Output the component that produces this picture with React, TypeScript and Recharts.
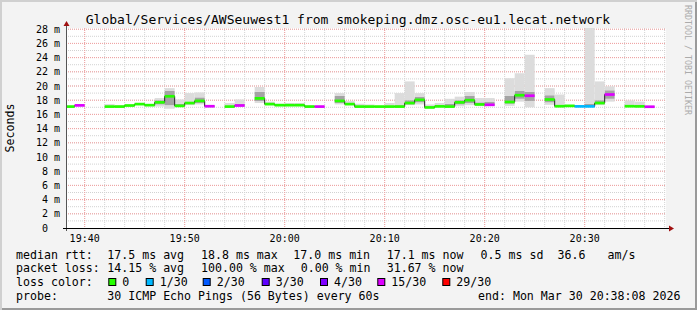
import React from 'react'
import { ComposedChart, Bar, Line, XAxis, YAxis, CartesianGrid, Cell } from 'recharts'

// minutes after 19:00, window 19:38:08 .. 20:38:08
const START = 38 + 8 / 60
const END = START + 60

// one entry per minute, first bin 19:38-19:39
const median: (number | null)[] = [
    17.1, 17.27, null, null, 17.1, 17.1, 17.25, 17.45, 17.3, 17.7,
    18.55, 17.2, 17.6, 17.9, 17.15, null, 17.1, 17.25, null, 18.25,
    17.45, 17.3, 17.3, 17.3, 17.1, 17.1, null, 17.9, 17.45, 17.1,
    17.1, 17.1, 17.1, 17.1, 17.6, 18.05, 16.98, 17.13, 17.1, 17.7,
    18.0, 17.4, 17.35, null, 17.75, 18.7, 18.63, null, 18.1, 17.15,
    17.2, 17.13, 17.13, 17.6, 18.8, null, 17.15, 17.13, 17.08, null,
]
// pings lost out of 30
const lost: number[] = [
    0, 15, 30, 30, 0, 0, 0, 0, 0, 0,
    0, 0, 0, 0, 15, 30, 0, 15, 30, 0,
    0, 0, 0, 0, 0, 15, 30, 0, 0, 0,
    0, 0, 0, 0, 0, 0, 0, 0, 0, 0,
    0, 0, 15, 30, 0, 0, 15, 30, 0, 0,
    0, 1, 1, 0, 15, 30, 0, 0, 15, 30,
]
const smokeMin: (number | null)[] = [
    17.0, 17.2, null, null, 17.0, 17.0, 17.15, 17.35, 17.2, 17.1,
    16.8, 17.1, 17.3, 17.4, 17.0, null, 17.0, 17.15, null, 17.6,
    17.3, 17.2, 17.2, 17.2, 17.0, 17.0, null, 17.4, 17.3, 17.0,
    17.0, 17.0, 17.0, 17.0, 17.3, 17.4, 16.85, 17.0, 17.0, 17.15,
    17.3, 17.2, 17.2, null, 17.2, 17.8, 17.0, null, 17.35, 17.05,
    17.1, 17.05, 17.05, 17.3, 17.8, null, 17.05, 17.05, 17.0, null,
]
const smokeMax: (number | null)[] = [
    17.2, 17.4, null, null, 17.45, 17.3, 17.4, 17.6, 17.4, 18.3,
    19.7, 18.1, 19.0, 19.1, 17.3, null, 17.6, 18.1, null, 19.85,
    17.8, 17.5, 17.6, 17.6, 17.3, 17.2, null, 19.0, 17.9, 17.5,
    17.4, 17.2, 17.6, 19.0, 20.65, 19.0, 17.4, 17.6, 18.2, 18.5,
    19.15, 18.3, 18.3, null, 21.1, 21.8, 24.4, null, 19.7, 18.8,
    17.35, 17.3, 28.5, 20.65, 19.95, null, 17.97, 17.8, 17.2, null,
]
const coreLo: (number | null)[] = [
    17.05, 17.22, null, null, 17.05, 17.05, 17.2, 17.4, 17.25, 17.4,
    17.3, 17.15, 17.45, 17.6, 17.05, null, 17.05, 17.2, null, 17.9,
    17.4, 17.25, 17.25, 17.25, 17.05, 17.05, null, 17.6, 17.4, 17.05,
    17.05, 17.05, 17.05, 17.05, 17.4, 17.7, 16.9, 17.05, 17.05, 17.4,
    17.6, 17.3, 17.25, null, 17.5, 18.2, 17.9, null, 17.7, 17.1,
    17.15, 17.08, 17.1, 17.45, 18.2, null, 17.1, 17.1, 17.02, null,
]
const coreHi: (number | null)[] = [
    17.15, 17.32, null, null, 17.2, 17.15, 17.3, 17.5, 17.35, 18.0,
    19.3, 17.5, 17.8, 18.4, 17.2, null, 17.2, 17.5, null, 19.2,
    17.6, 17.35, 17.4, 17.4, 17.15, 17.15, null, 18.6, 17.6, 17.2,
    17.15, 17.15, 17.2, 17.3, 18.0, 18.5, 17.1, 17.25, 17.5, 18.0,
    18.6, 17.7, 17.8, null, 18.6, 19.3, 19.2, null, 18.7, 17.3,
    17.25, 17.2, 17.5, 18.0, 19.4, null, 17.3, 17.25, 17.15, null,
]

const LOSS_LEVELS = [0, 1, 2, 3, 4, 15, 29]
const LOSS_COLORS = ['#26ff00', '#00b8ff', '#0059ff', '#5e00ff', '#7e00ff', '#dd00ff', '#ff0000']
const LOSS_LABELS = ['0', '1/30', '2/30', '3/30', '4/30', '15/30', '29/30']

const X_TICKS = [40, 50, 60, 70, 80, 90]
const Y_TICKS = [0, 2, 4, 6, 8, 10, 12, 14, 16, 18, 20, 22, 24, 26, 28]
const X_MINOR = [40, 42, 44, 46, 48, 50, 52, 54, 56, 58, 60, 62, 64, 66, 68, 70, 72, 74, 76, 78, 80, 82, 84, 86, 88, 90, 92, 94, 96, 98]
const Y_MINOR = [1, 2, 3, 4, 5, 6, 7, 8, 9, 10, 11, 12, 13, 14, 15, 16, 17, 18, 19, 20, 21, 22, 23, 24, 25, 26, 27, 28]
const Y_MAJOR = [2, 4, 6, 8, 10, 12, 14, 16, 18, 20, 22, 24, 26, 28]

const BAND = 0.19
const MONO = '"DejaVu Sans Mono", monospace'

const lossColor = (n: number) => {
    let c = LOSS_COLORS[0]
    LOSS_LEVELS.forEach((lvl, i) => { if (n >= lvl) c = LOSS_COLORS[i] })
    return c
}

const data = median.map((m, i) => {
    const ok = m != null
    return {
        t: Math.floor(START) + i + 0.5,
        base: ok ? (smokeMin[i] as number) : 0,
        lightLo: ok ? (coreLo[i] as number) - (smokeMin[i] as number) : 0,
        dark: ok ? (coreHi[i] as number) - (coreLo[i] as number) : 0,
        lightHi: ok ? (smokeMax[i] as number) - (coreHi[i] as number) : 0,
        bandBase: ok ? (m as number) - BAND : 0,
        band: ok ? 2 * BAND : 0,
        median: m,
        color: lossColor(lost[i]),
    }
})

const XTick = (p: any) => {
    const v = p.payload.value
    const h = 19 + Math.floor(v / 60)
    const mm = String(v % 60).padStart(2, '0')
    return (
        <text x={p.x} y={p.y - 20} textAnchor="middle" dominantBaseline="central" fontSize={10} fontFamily={MONO} fill="#000">
            {`${h}:${mm}`}
        </text>
    )
}

const YTick = (p: any) => {
    const v = p.payload.value
    return (
        <text x={v === 0 ? p.x - 18 : p.x - 6} y={p.y} textAnchor="end" dominantBaseline="central" fontSize={10} fontFamily={MONO} fill="#000">
            {v === 0 ? '0' : `${v} m`}
        </text>
    )
}

const row1 = [
    ['median rtt:', 16], ['17.5 ms avg', 107.3], ['18.8 ms max', 201], ['17.0 ms min', 293.3],
    ['17.1 ms now', 386.7], ['0.5 ms sd', 480.6], ['36.6', 557.5], ['am/s', 607.5],
] as const
const row2 = [
    ['packet loss:', 16], ['14.15 % avg', 107.3], ['100.00 % max', 201], ['0.00 % min', 300.7], ['31.67 % now', 386.7],
] as const
const boxX = [108.3, 145.7, 202.7, 261.7, 320, 377.3, 442.3]

export default function App() {
    return (
        <div style={{ position: 'relative', width: 697, height: 310, background: '#f3f3f3', boxShadow: 'inset 2px 2px 0 #d0d0d0, inset -2px -2px 0 #9a9a9a' }}>
            <style>{'body{margin:0}'}</style>
            <ComposedChart width={697} height={310} data={data} margin={{ top: 28, right: 31, bottom: 52, left: 6 }} barCategoryGap={0} barGap={0} style={{ position: 'absolute', left: 0, top: 0 }}>
                <CartesianGrid xAxisId="main" fill="#ffffff" stroke="#d2d2d2" strokeDasharray="1 1" horizontalValues={Y_MINOR} verticalValues={X_MINOR} />
                <CartesianGrid xAxisId="main" stroke="#f2a0a0" strokeDasharray="1 1" horizontalValues={Y_MAJOR} verticalValues={X_TICKS} />
                <XAxis xAxisId="main" dataKey="t" type="number" domain={[START, END]} allowDataOverflow ticks={X_TICKS} interval={0} tickSize={0} tickMargin={0} axisLine={false} tickLine={false} tick={XTick} height={30} />
                <XAxis xAxisId="band" dataKey="t" type="number" domain={[START, END]} allowDataOverflow hide />
                <YAxis type="number" domain={[0, 28.17]} allowDataOverflow ticks={Y_TICKS} interval={0} tickSize={0} tickMargin={0} axisLine={false} tickLine={false} tick={YTick} width={60} />

                <Bar xAxisId="main" dataKey="base" stackId="smoke" fill="transparent" isAnimationActive={false} zIndex={300} />
                <Bar xAxisId="main" dataKey="lightLo" stackId="smoke" fill="#dcdcdc" isAnimationActive={false} zIndex={300} />
                <Bar xAxisId="main" dataKey="dark" stackId="smoke" fill="#a4a4a4" isAnimationActive={false} zIndex={300} />
                <Bar xAxisId="main" dataKey="lightHi" stackId="smoke" fill="#dcdcdc" isAnimationActive={false} zIndex={300} />

                <Line xAxisId="main" dataKey="median" type="step" stroke="#222" strokeWidth={1} dot={false} activeDot={false} connectNulls={false} isAnimationActive={false} zIndex={400} />

                <Bar xAxisId="band" dataKey="bandBase" stackId="band" fill="transparent" isAnimationActive={false} zIndex={450} />
                <Bar xAxisId="band" dataKey="band" stackId="band" isAnimationActive={false} zIndex={450}>
                    {data.map((d, i) => (
                        <Cell key={i} fill={d.color} />
                    ))}
                </Bar>
            </ComposedChart>

            <svg width={697} height={310} style={{ position: 'absolute', left: 0, top: 0, pointerEvents: 'none' }}>
                <text x={348} y={19} textAnchor="middle" dominantBaseline="central" fontSize={13} fontFamily={MONO} fill="#000">
                    Global/Services/AWSeuwest1 from smokeping.dmz.osc-eu1.lecat.network
                </text>
                <text x={10} y={128} transform="rotate(-90 10 128)" textAnchor="middle" dominantBaseline="central" fontSize={11.6} fontFamily={MONO} fill="#000">
                    Seconds
                </text>
                <text x={687.5} y={60} transform="rotate(90 687.5 60)" textAnchor="middle" dominantBaseline="central" fontSize={8.3} fontFamily={MONO} fill="#ababab">
                    RRDTOOL / TOBI OETIKER
                </text>

                <line x1={66.5} y1={231} x2={66.5} y2={25} stroke="#555" strokeWidth={1} />
                <polygon points="63.5,26 69.5,26 66.5,21" fill="#a01010" />
                <line x1={63} y1={228.5} x2={670} y2={228.5} stroke="#000" strokeWidth={1} />
                <polygon points="669,225.5 669,231.5 674,228.5" fill="#a01010" />

                <g fontSize={11.6} fontFamily={MONO} fill="#000" dominantBaseline="central">
                    {row1.map(([s, x]) => (
                        <text key={s} x={x} y={254.7}>{s}</text>
                    ))}
                    {row2.map(([s, x]) => (
                        <text key={s} x={x} y={268.3}>{s}</text>
                    ))}
                    <text x={16} y={282}>loss color:</text>
                    {LOSS_LABELS.map((l, i) => (
                        <g key={l}>
                            <rect x={boxX[i] + 0.5} y={278.5} width={7} height={7} fill={LOSS_COLORS[i]} stroke="#000" strokeWidth={1} />
                            <text x={boxX[i] + 14} y={282}>{l}</text>
                        </g>
                    ))}
                    <text x={16} y={295.7}>probe:</text>
                    <text x={107.3} y={295.7}>30 ICMP Echo Pings (56 Bytes) every 60s</text>
                    <text x={478} y={295.7}>end: Mon Mar 30 20:38:08 2026</text>
                </g>
            </svg>
        </div>
    )
}
